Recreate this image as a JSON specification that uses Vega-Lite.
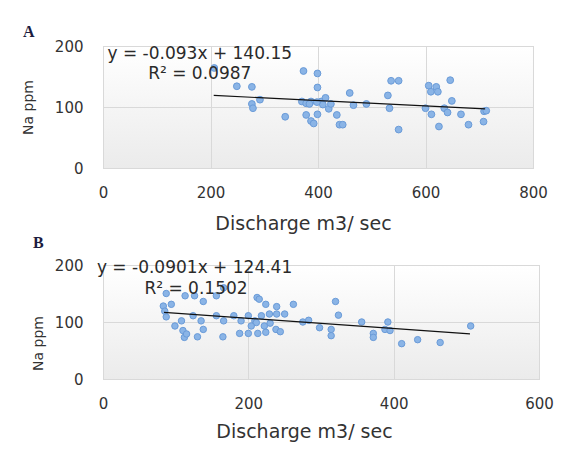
{
  "$schema": "https://vega.github.io/schema/vega-lite/v6.json",
  "background": "white",
  "padding": {"left": 20, "top": 23, "right": 5, "bottom": 5},
  "spacing": 0,
  "config": {
    "view": {"stroke": "#d0d0d0", "fill": {"gradient": "linear", "x1": 0, "y1": 0, "x2": 0, "y2": 1, "stops": [{"offset": 0, "color": "#ffffff"}, {"offset": 1, "color": "#ebebeb"}]}},
    "axis": {
      "domain": false, "ticks": false, "grid": true, "gridColor": "#d9d9d9", "gridWidth": 1,
      "labelFont": "DejaVu Sans", "labelFontSize": 15, "labelColor": "#333333", "labelOverlap": false,
      "titleFont": "DejaVu Sans", "titleFontWeight": "normal", "titleColor": "#333333"
    },
    "axisX": {"labelPadding": 17, "titleFontSize": 19, "labelFlush": false},
    "axisY": {"labelPadding": 20, "titleFontSize": 14},
    "title": {"font": "Liberation Serif", "fontSize": 16, "fontWeight": "bold", "color": "#1c1c40", "anchor": "start", "frame": "group"}
  },
  "datasets": {
    "A": [
      {"q": 207, "na": 164}, {"q": 249, "na": 134}, {"q": 277, "na": 133}, {"q": 277, "na": 105}, {"q": 279, "na": 98},
      {"q": 292, "na": 112}, {"q": 339, "na": 84}, {"q": 373, "na": 159}, {"q": 399, "na": 155}, {"q": 399, "na": 132},
      {"q": 370, "na": 109}, {"q": 378, "na": 106}, {"q": 378, "na": 87}, {"q": 387, "na": 77}, {"q": 392, "na": 73},
      {"q": 399, "na": 88}, {"q": 387, "na": 109}, {"q": 406, "na": 109}, {"q": 414, "na": 115}, {"q": 409, "na": 104},
      {"q": 420, "na": 97}, {"q": 424, "na": 105}, {"q": 435, "na": 87}, {"q": 440, "na": 71}, {"q": 446, "na": 71},
      {"q": 459, "na": 123}, {"q": 466, "na": 103}, {"q": 490, "na": 105}, {"q": 530, "na": 119}, {"q": 533, "na": 98},
      {"q": 536, "na": 143}, {"q": 550, "na": 143}, {"q": 550, "na": 63}, {"q": 600, "na": 98}, {"q": 606, "na": 135},
      {"q": 610, "na": 125}, {"q": 611, "na": 88}, {"q": 620, "na": 133}, {"q": 623, "na": 125}, {"q": 625, "na": 68},
      {"q": 635, "na": 98}, {"q": 641, "na": 91}, {"q": 646, "na": 144}, {"q": 649, "na": 110}, {"q": 666, "na": 88},
      {"q": 680, "na": 71}, {"q": 709, "na": 93}, {"q": 713, "na": 94}, {"q": 708, "na": 76}, {"q": 384, "na": 105},
      {"q": 398, "na": 108}
    ],
    "A_trend": [{"q": 206, "na": 119}, {"q": 711, "na": 97}],
    "B": [
      {"q": 87, "na": 150}, {"q": 83, "na": 128}, {"q": 94, "na": 131}, {"q": 85, "na": 119}, {"q": 87, "na": 109},
      {"q": 99, "na": 93}, {"q": 108, "na": 102}, {"q": 110, "na": 85}, {"q": 112, "na": 73}, {"q": 113, "na": 146},
      {"q": 126, "na": 146}, {"q": 124, "na": 111}, {"q": 138, "na": 136}, {"q": 135, "na": 102}, {"q": 138, "na": 87},
      {"q": 130, "na": 74}, {"q": 115, "na": 79}, {"q": 156, "na": 146}, {"q": 166, "na": 160}, {"q": 156, "na": 111},
      {"q": 166, "na": 102}, {"q": 165, "na": 74}, {"q": 180, "na": 111}, {"q": 190, "na": 102}, {"q": 188, "na": 80},
      {"q": 200, "na": 111}, {"q": 200, "na": 80}, {"q": 209, "na": 102}, {"q": 212, "na": 143}, {"q": 211, "na": 99},
      {"q": 213, "na": 80}, {"q": 218, "na": 111}, {"q": 224, "na": 131}, {"q": 224, "na": 82}, {"q": 229, "na": 114},
      {"q": 239, "na": 127}, {"q": 239, "na": 114}, {"q": 238, "na": 87}, {"q": 244, "na": 83}, {"q": 250, "na": 114},
      {"q": 204, "na": 93}, {"q": 222, "na": 93}, {"q": 215, "na": 140}, {"q": 230, "na": 98},
      {"q": 262, "na": 131}, {"q": 275, "na": 100}, {"q": 283, "na": 103}, {"q": 298, "na": 90}, {"q": 314, "na": 87},
      {"q": 314, "na": 76}, {"q": 320, "na": 136}, {"q": 324, "na": 112}, {"q": 356, "na": 100}, {"q": 372, "na": 80},
      {"q": 372, "na": 73}, {"q": 388, "na": 87}, {"q": 392, "na": 100}, {"q": 395, "na": 85}, {"q": 411, "na": 62},
      {"q": 433, "na": 69}, {"q": 464, "na": 64}, {"q": 506, "na": 93}
    ],
    "B_trend": [{"q": 84, "na": 117}, {"q": 505, "na": 79}],
    "one": [{}]
  },
  "vconcat": [
    {
      "title": {"text": "A", "dx": -80, "offset": -1},
      "width": 430,
      "height": 122,
      "layer": [
        {
          "data": {"name": "A"},
          "mark": {"type": "point", "filled": true, "size": 46, "fill": "#8ab4e6", "stroke": "#6a9bd8", "strokeWidth": 1, "opacity": 1},
          "encoding": {
            "x": {"field": "q", "type": "quantitative", "scale": {"domain": [0, 800]}, "axis": {"values": [0, 200, 400, 600, 800], "title": "Discharge m3/ sec", "titleX": 200, "titleY": 55, "titleBaseline": "middle"}},
            "y": {"field": "na", "type": "quantitative", "scale": {"domain": [0, 200]}, "axis": {"values": [0, 50, 100, 150, 200], "title": "Na ppm", "titleX": -68}}
          }
        },
        {
          "data": {"name": "A_trend"},
          "mark": {"type": "line", "color": "#111111", "strokeWidth": 1.2},
          "encoding": {
            "x": {"field": "q", "type": "quantitative", "axis": {"values": [0, 200, 400, 600, 800], "title": "Discharge m3/ sec", "titleX": 200, "titleY": 55, "titleBaseline": "middle"}},
            "y": {"field": "na", "type": "quantitative", "axis": {"values": [0, 50, 100, 150, 200], "title": "Na ppm", "titleX": -68}}
          }
        },
        {
          "data": {"name": "one"},
          "mark": {"type": "text", "font": "DejaVu Sans", "fontSize": 17, "color": "#2a2a2a", "align": "center", "baseline": "middle"},
          "encoding": {"x": {"datum": 180}, "y": {"datum": 187}, "text": {"value": "y = -0.093x + 140.15"}}
        },
        {
          "data": {"name": "one"},
          "mark": {"type": "text", "font": "DejaVu Sans", "fontSize": 17, "color": "#2a2a2a", "align": "center", "baseline": "middle"},
          "encoding": {"x": {"datum": 180}, "y": {"datum": 154}, "text": {"value": "R² = 0.0987"}}
        }
      ]
    },
    {
      "title": {"text": "B", "dx": -70, "offset": 7},
      "width": 436,
      "height": 114,
      "layer": [
        {
          "data": {"name": "B"},
          "mark": {"type": "point", "filled": true, "size": 42, "fill": "#8ab4e6", "stroke": "#6a9bd8", "strokeWidth": 1, "opacity": 1},
          "encoding": {
            "x": {"field": "q", "type": "quantitative", "scale": {"domain": [0, 600]}, "axis": {"values": [0, 200, 400, 600], "title": "Discharge m3/ sec", "titleX": 201, "titleY": 52, "titleBaseline": "middle"}},
            "y": {"field": "na", "type": "quantitative", "scale": {"domain": [0, 200]}, "axis": {"values": [0, 50, 100, 150, 200], "title": "Na ppm", "titleX": -58, "titleY": 78}}
          }
        },
        {
          "data": {"name": "B_trend"},
          "mark": {"type": "line", "color": "#111111", "strokeWidth": 1.2},
          "encoding": {
            "x": {"field": "q", "type": "quantitative", "axis": {"values": [0, 200, 400, 600], "title": "Discharge m3/ sec", "titleX": 201, "titleY": 52, "titleBaseline": "middle"}},
            "y": {"field": "na", "type": "quantitative", "axis": {"values": [0, 50, 100, 150, 200], "title": "Na ppm", "titleX": -58, "titleY": 78}}
          }
        },
        {
          "data": {"name": "one"},
          "mark": {"type": "text", "font": "DejaVu Sans", "fontSize": 17, "color": "#2a2a2a", "align": "center", "baseline": "middle"},
          "encoding": {"x": {"datum": 126}, "y": {"datum": 195}, "text": {"value": "y = -0.0901x + 124.41"}}
        },
        {
          "data": {"name": "one"},
          "mark": {"type": "text", "font": "DejaVu Sans", "fontSize": 17, "color": "#2a2a2a", "align": "center", "baseline": "middle"},
          "encoding": {"x": {"datum": 128}, "y": {"datum": 158}, "text": {"value": "R² = 0.1502"}}
        }
      ]
    }
  ]
}
